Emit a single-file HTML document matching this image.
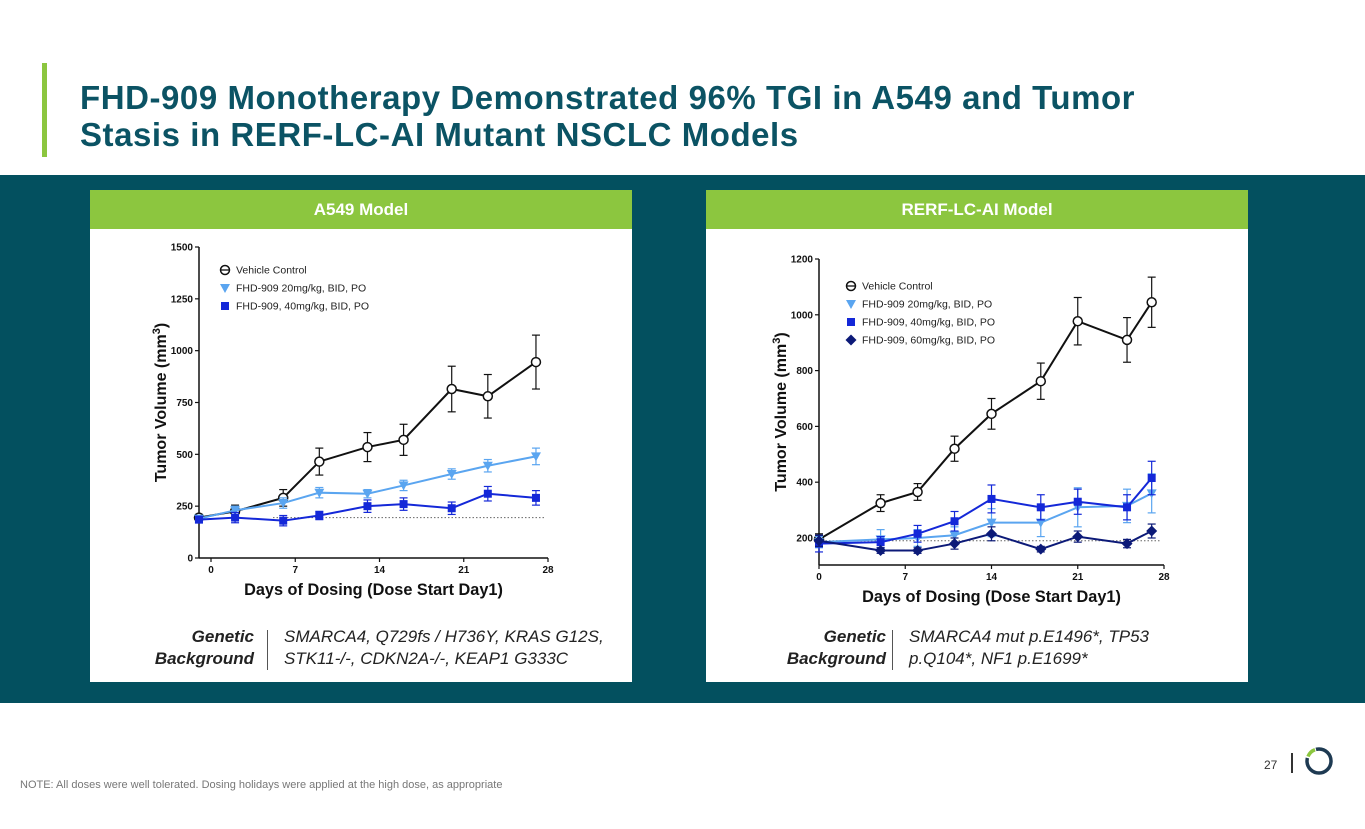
<!DOCTYPE html>
<html><head><meta charset="utf-8">
<style>
body{margin:0;width:1365px;height:829px;overflow:hidden;background:#fff;font-family:"Liberation Sans",sans-serif;position:relative}
.abs{position:absolute}
.title{left:80px;top:79px;font-size:33px;letter-spacing:0.55px;font-weight:bold;color:#0b5364;line-height:37px}
.band{left:0;top:175px;width:1365px;height:528px;background:#03505f}
.panel{background:#fff;width:542px;height:492px;top:190px}
.hdr{background:#8cc63f;height:39px;color:#fff;font-weight:bold;font-size:17px;text-align:center;line-height:40px}
.gen{font-size:17px;font-style:italic;color:#222;line-height:22px}
</style></head><body>
<div class="abs" style="left:42px;top:63px;width:5px;height:94px;background:#8cc63f"></div>
<div class="abs title">FHD-909 Monotherapy Demonstrated 96% TGI in A549 and Tumor<br>Stasis in RERF-LC-AI Mutant NSCLC Models</div>
<div class="abs band"></div>

<div class="abs panel" style="left:90px">
 <div class="hdr">A549 Model</div>
 <div class="abs gen" style="right:378px;top:436px;text-align:right;font-weight:bold">Genetic<br>Background</div>
 <div class="abs" style="left:177px;top:440px;width:1px;height:40px;background:#555"></div>
 <div class="abs gen" style="left:194px;top:436px">SMARCA4, Q729fs / H736Y, KRAS G12S,<br>STK11-/-, CDKN2A-/-, KEAP1 G333C</div>
</div>
<div class="abs panel" style="left:706px">
 <div class="hdr">RERF-LC-AI Model</div>
 <div class="abs gen" style="right:362px;top:436px;text-align:right;font-weight:bold">Genetic<br>Background</div>
 <div class="abs" style="left:186px;top:440px;width:1px;height:40px;background:#555"></div>
 <div class="abs gen" style="left:203px;top:436px">SMARCA4 mut p.E1496*, TP53<br>p.Q104*, NF1 p.E1699*</div>
</div>

<svg class="abs" id="chartL" style="left:0;top:0" width="1365" height="829"></svg>

<div class="abs" style="left:20px;top:779px;font-size:11px;color:#777">NOTE: All doses were well tolerated. Dosing holidays were applied at the high dose, as appropriate</div>
<div class="abs" style="left:1264px;top:758px;font-size:12px;color:#333">27</div>
<div class="abs" style="left:1291px;top:753px;width:1.5px;height:20px;background:#333"></div>
<svg class="abs" style="left:1303px;top:745px" width="32" height="32">
 <circle cx="16" cy="16" r="12" fill="none" stroke="#1e3a52" stroke-width="3.5"/>
 <path d="M4.5 13 A12 12 0 0 1 13 4.4" fill="none" stroke="#fff" stroke-width="5"/>
 <path d="M5 11.5 A12 12 0 0 1 12 4.7" fill="none" stroke="#8cc63f" stroke-width="3.5"/>
</svg>

<script>
// ---- A549 data ----
const daysA = [-1, 2, 6, 9, 13, 16, 20, 23, 27];
const vehA = [195, 225, 290, 465, 535, 570, 815, 780, 945];
const vehAErr = [15, 30, 40, 65, 70, 75, 110, 105, 130];
const d20A = [190, 230, 265, 315, 310, 350, 405, 445, 490];
const d20AErr = [15, 20, 25, 25, 20, 25, 25, 30, 40];
const d40A = [185, 195, 180, 205, 250, 260, 240, 310, 290];
const d40AErr = [15, 25, 25, 20, 30, 30, 30, 35, 35];
const yTicksA = [0, 250, 500, 750, 1000, 1250, 1500];
const xTicks = [0, 7, 14, 21, 28];
const legendA = ["Vehicle Control", "FHD-909 20mg/kg, BID, PO", "FHD-909, 40mg/kg, BID, PO"];
// ---- RERF data ----
const daysR = [0, 5, 8, 11, 14, 18, 21, 25, 27];
const vehR = [195, 325, 365, 520, 645, 762, 977, 910, 1045];
const vehRErr = [20, 30, 30, 45, 55, 65, 85, 80, 90];
const d20R = [185, 195, 200, 210, 255, 255, 310, 315, 360];
const d20RErr = [20, 35, 30, 30, 50, 50, 70, 60, 70];
const d40R = [180, 185, 215, 260, 340, 310, 330, 310, 415];
const d40RErr = [30, 20, 30, 35, 50, 45, 45, 45, 60];
const d60R = [190, 155, 155, 180, 215, 160, 205, 180, 225];
const d60RErr = [20, 10, 10, 20, 25, 10, 20, 15, 25];
const yTicksR = [200, 400, 600, 800, 1000, 1200];
const legendR = ["Vehicle Control", "FHD-909 20mg/kg, BID, PO", "FHD-909, 40mg/kg, BID, PO", "FHD-909, 60mg/kg, BID, PO"];

const NS = "http://www.w3.org/2000/svg";
const svg = document.getElementById("chartL");
function mk(tag, attrs, parent) {
  const e = document.createElementNS(NS, tag);
  for (const k in attrs) e.setAttribute(k, attrs[k]);
  (parent || svg).appendChild(e);
  return e;
}
function marker(g, type, x, y, color) {
  let m;
  if (type === "circle") m = mk("circle", {cx: x, cy: y, r: 4.5, fill: "#fff", stroke: color, "stroke-width": 1.5}, g);
  else if (type === "tri") m = mk("path", {d: `M${x-5} ${y-4}L${x+5} ${y-4}L${x} ${y+5}Z`, fill: color}, g);
  else if (type === "sq") m = mk("rect", {x: x-4, y: y-4, width: 8, height: 8, fill: color}, g);
  else m = mk("path", {d: `M${x} ${y-5.5}L${x+5.5} ${y}L${x} ${y+5.5}L${x-5.5} ${y}Z`, fill: color}, g);
  return m;
}
function chart(cfg) {
  const g = mk("g", {});
  
  
  const xs = d => cfg.x0 + (d - 0) * (cfg.x28 - cfg.x0) / 28;
  const ys = v => cfg.yBot - (v - cfg.vMin) * (cfg.yBot - cfg.yTop) / (cfg.vMax - cfg.vMin);
  mk("line", {x1: cfg.dotX1, x2: cfg.x28 - 3, y1: ys(cfg.dotV), y2: ys(cfg.dotV), stroke: "#666", "stroke-width": 1, "stroke-dasharray": "1.5 2"}, g);
  mk("line", {x1: cfg.axX, x2: cfg.axX, y1: cfg.yTop, y2: cfg.yBot, stroke: "#111", "stroke-width": 1.5}, g);
  mk("line", {x1: cfg.axX, x2: cfg.x28, y1: cfg.yBot, y2: cfg.yBot, stroke: "#111", "stroke-width": 1.5}, g);
  cfg.yTicks.forEach(t => {
    mk("line", {x1: cfg.axX - 4, x2: cfg.axX, y1: ys(t), y2: ys(t), stroke: "#111", "stroke-width": 1.2}, g);
    const tx = mk("text", {x: cfg.axX - 6, y: ys(t) + 3.5, "text-anchor": "end", "font-size": 10, "font-weight": "bold", fill: "#111"}, g);
    tx.textContent = t;
    
    
  });
  xTicks.forEach(t => {
    mk("line", {x1: xs(t), x2: xs(t), y1: cfg.yBot, y2: cfg.yBot + 4, stroke: "#111", "stroke-width": 1.2}, g);
    const tx = mk("text", {x: xs(t), y: cfg.yBot + 15, "text-anchor": "middle", "font-size": 10, "font-weight": "bold", fill: "#111"}, g);
    tx.textContent = t;
    
    
  });
  const xt = mk("text", {x: (cfg.axX + cfg.x28) / 2, y: cfg.yBot + 37, "text-anchor": "middle", "font-size": 16.3, "font-weight": "bold", fill: "#111"}, g);
  xt.textContent = "Days of Dosing (Dose Start Day1)";
  
  
  const yc = (cfg.yTop + cfg.yBot) / 2;
  const yt = mk("text", {x: 0, y: 0, transform: `translate(${cfg.axX - 33},${yc}) rotate(-90)`, "text-anchor": "middle", "font-size": 16, "font-weight": "bold", fill: "#111"}, g);
  yt.innerHTML = 'Tumor Volume (mm<tspan dy="-6" font-size="11">3</tspan><tspan dy="6">)</tspan>';
  
  
  cfg.series.forEach((s, si) => {
    const sg = mk("g", {}, g);
    
    
    s.vals.forEach((v, i) => {
      const x = xs(cfg.days[i]), y1 = ys(v + s.err[i]), y2 = ys(v - s.err[i]);
      mk("line", {x1: x, x2: x, y1: y1, y2: y2, stroke: s.color, "stroke-width": 1.2}, sg);
      mk("line", {x1: x - 4, x2: x + 4, y1: y1, y2: y1, stroke: s.color, "stroke-width": 1.2}, sg);
      mk("line", {x1: x - 4, x2: x + 4, y1: y2, y2: y2, stroke: s.color, "stroke-width": 1.2}, sg);
    });
    const pts = s.vals.map((v, i) => xs(cfg.days[i]) + "," + ys(v)).join(" ");
    const pl = mk("polyline", {points: pts, fill: "none", stroke: s.color, "stroke-width": 2}, sg);
    
    
    s.vals.forEach((v, i) => {
      const m = marker(sg, s.type, xs(cfg.days[i]), ys(v), s.color);
      
      
    });
    const lx = cfg.legX, ly = cfg.legY + si * cfg.legDy;
    const lm = marker(g, s.type, lx, ly, s.color);
    if (s.type === "circle") mk("line", {x1: lx - 4.5, x2: lx + 4.5, y1: ly, y2: ly, stroke: s.color, "stroke-width": 1.3}, g);
    
    
    const lt = mk("text", {x: lx + 11, y: ly + 3.5, "font-size": 10.5, fill: "#222"}, g);
    lt.textContent = cfg.legend[si];
    
    
  });
}
chart({name: "a549-plot", x0: 211, x28: 548, axX: 199, yTop: 247, yBot: 558, vMin: 0, vMax: 1500,
  yTicks: yTicksA, days: daysA, dotV: 195, dotX1: 273, legX: 225, legY: 270, legDy: 18, legend: legendA,
  series: [
    {id: "vehicle", vals: vehA, err: vehAErr, color: "#111", type: "circle"},
    {id: "20mg", vals: d20A, err: d20AErr, color: "#5aa5f0", type: "tri"},
    {id: "40mg", vals: d40A, err: d40AErr, color: "#1428d8", type: "sq"}
  ]});
chart({name: "rerf-plot", x0: 819, x28: 1164, axX: 819, yTop: 259, yBot: 565, vMin: 103.2, vMax: 1200,
  yTicks: yTicksR, days: daysR, dotV: 190, dotX1: 822, legX: 851, legY: 286, legDy: 18, legend: legendR,
  series: [
    {id: "vehicle", vals: vehR, err: vehRErr, color: "#111", type: "circle"},
    {id: "20mg", vals: d20R, err: d20RErr, color: "#5aa5f0", type: "tri"},
    {id: "40mg", vals: d40R, err: d40RErr, color: "#1428d8", type: "sq"},
    {id: "60mg", vals: d60R, err: d60RErr, color: "#0c1a78", type: "dia"}
  ]});
</script>
</body></html>
